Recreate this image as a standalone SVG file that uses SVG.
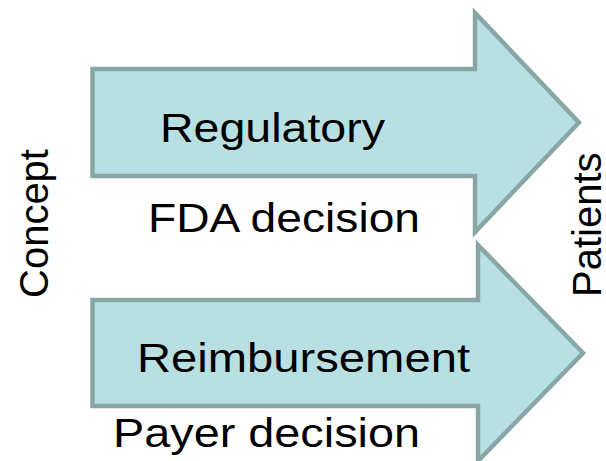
<svg xmlns="http://www.w3.org/2000/svg" width="606" height="461" viewBox="0 0 606 461">
<style>
.arrow{fill:#b8dfe2;stroke:#89a6a6;stroke-width:4.5;stroke-linejoin:miter}
.t{font-family:"Liberation Sans",Arial,sans-serif;font-size:40px;fill:#000}
</style>
<rect width="606" height="461" fill="#fff"/>
<g id="regulatory">
<polygon class="arrow" points="92.5,69 475,69 475,13 579,122.5 475,232 475,176 92.5,176"/>
<text class="t" x="160" y="142" textLength="225" lengthAdjust="spacingAndGlyphs">Regulatory</text>
</g>
<g id="fda">
<text class="t" x="148" y="232" textLength="272" lengthAdjust="spacingAndGlyphs">FDA decision</text>
</g>
<g id="reimbursement">
<polygon class="arrow" points="92.5,300 478,300 478,245 583,353 478,461 478,406 92.5,406"/>
<text class="t" x="137" y="372" textLength="333" lengthAdjust="spacingAndGlyphs">Reimbursement</text>
</g>
<g id="payer">
<text class="t" x="113" y="447" textLength="307" lengthAdjust="spacingAndGlyphs">Payer decision</text>
</g>
<g id="concept">
<text class="t" transform="translate(48,298) rotate(-90)">Concept</text>
</g>
<g id="patients">
<text class="t" transform="translate(601,297) rotate(-90)">Patients</text>
</g>
<g id="connectors"></g>
</svg>
